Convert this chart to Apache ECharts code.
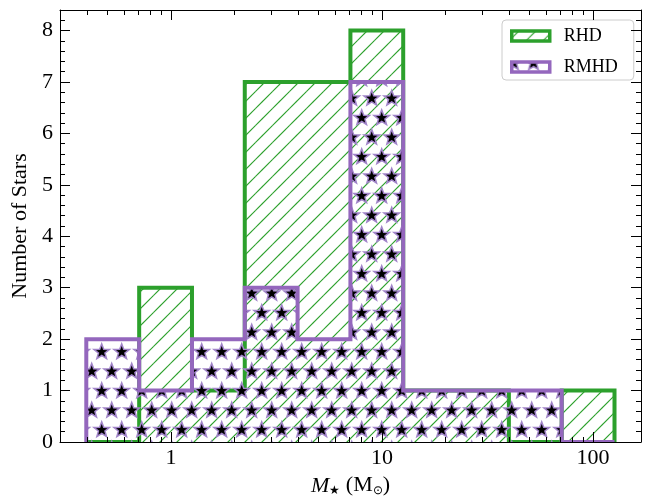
<!DOCTYPE html>
<html><head><meta charset="utf-8">
<script src="https://cdn.jsdelivr.net/npm/echarts@6/dist/echarts.min.js"></script>
<style>html,body{margin:0;padding:0;background:#fff}#c{width:651px;height:498px}</style>
</head><body><div id="c"></div>
<script>
// ---- data ----
const binEdges   = [0.397, 0.707, 1.258, 2.238, 3.983, 7.088, 12.61, 22.45, 39.95, 71.09, 126.5];
const rhdCounts  = [0, 3, 1, 7, 7, 8, 1, 1, 0, 1];
const rmhdCounts = [2, 1, 2, 3, 2, 7, 1, 1, 1, 0];
const seriesNames = ['RHD', 'RMHD'];
const xMajorTicks = [1, 10, 100];
const xMinorTicks = [0.3, 0.4, 0.5, 0.6, 0.7, 0.8, 0.9, 2, 3, 4, 5, 6, 7, 8, 9, 20, 30, 40, 50, 60, 70, 80, 90];
const yMajorTicks = [0, 1, 2, 3, 4, 5, 6, 7, 8];
const yMinorTicks = [0.2, 0.4, 0.6, 0.8, 1.2, 1.4, 1.6, 1.8, 2.2, 2.4, 2.6, 2.8, 3.2, 3.4, 3.6, 3.8,
                     4.2, 4.4, 4.6, 4.8, 5.2, 5.4, 5.6, 5.8, 6.2, 6.4, 6.6, 6.8, 7.2, 7.4, 7.6, 7.8, 8.2, 8.4];
const xRange = [0.298, 168.9];
const yRange = [0, 8.4];

// ---- styles ----
const GREEN = '#2ca02c', PURPLE = '#9467bd';
const FONT = '"Liberation Serif", "Times New Roman", serif';

function hatchPattern() {
  const s = 17;
  const c = document.createElement('canvas'); c.width = s; c.height = s;
  const g = c.getContext('2d');
  g.strokeStyle = GREEN; g.lineWidth = 1.2;
  for (let k = -3; k <= 3; k++) {
    const cc = 7 + k * s;
    g.beginPath(); g.moveTo(-5, cc + 5); g.lineTo(s + 5, cc - s - 5); g.stroke();
  }
  return { image: c, repeat: 'repeat' };
}
function starPattern() {
  const w = 20, h = 39;
  const c = document.createElement('canvas'); c.width = w; c.height = h;
  const g = c.getContext('2d');
  const base = [[1.7, 1.0], [11.7, 20.5]];
  function star(cx, cy) {
    const R = 6.0, r = 2.5;
    g.beginPath();
    for (let i = 0; i < 10; i++) {
      const a = -Math.PI / 2 + i * Math.PI / 5;
      const rad = i % 2 === 0 ? R : r;
      const x = cx + rad * Math.cos(a), y = cy + rad * Math.sin(a);
      if (i === 0) g.moveTo(x, y); else g.lineTo(x, y);
    }
    g.closePath();
    g.lineJoin = 'miter';
    g.strokeStyle = '#a184c9'; g.lineWidth = 3; g.stroke();
    g.fillStyle = '#000'; g.fill();
  }
  for (const [bx, by] of base)
    for (let dx = -1; dx <= 1; dx++)
      for (let dy = -1; dy <= 1; dy++) star(bx + dx * w, by + dy * h);
  return { image: c, repeat: 'repeat' };
}
const hatchFill = hatchPattern();
const starFill = starPattern();

function histRender(counts, fill, color) {
  return function (params, api) {
    const n = counts.length;
    const area = [api.coord([binEdges[0], 0])];
    const line = [api.coord([binEdges[0], 0])];
    for (let i = 0; i < n; i++) {
      const p1 = api.coord([binEdges[i], counts[i]]);
      const p2 = api.coord([binEdges[i + 1], counts[i]]);
      area.push(p1, p2); line.push(p1, p2);
    }
    area.push(api.coord([binEdges[n], 0]));
    line.push(api.coord([binEdges[n], 0]));
    return {
      type: 'group',
      children: [
        { type: 'polygon', shape: { points: area }, style: { fill: fill, stroke: null } },
        { type: 'polyline', shape: { points: line }, style: { fill: null, stroke: color, lineWidth: 4, lineJoin: 'miter' } }
      ]
    };
  };
}

const chart = echarts.init(document.getElementById('c'), null, { renderer: 'canvas' });

function xAx(pos, major) {
  return {
    type: 'log', logBase: 10, min: xRange[0], max: xRange[1], position: pos, z: 10,
    axisLine: { show: major, onZero: false, lineStyle: { color: '#000', width: 1 } },
    axisTick: { show: true, inside: true, length: major ? 10 : 5, customValues: major ? xMajorTicks : xMinorTicks, lineStyle: { color: '#000', width: 1 } },
    axisLabel: (major && pos === 'bottom') ? {
      show: true, customValues: xMajorTicks, margin: 5, color: '#000', fontSize: 22, fontFamily: FONT,
      formatter: v => String(Math.round(v))
    } : { show: false },
    splitLine: { show: false }, minorTick: { show: false }
  };
}
function yAx(pos, major) {
  return {
    type: 'value', min: yRange[0], max: yRange[1], position: pos, z: 10,
    axisLine: { show: major, onZero: false, lineStyle: { color: '#000', width: 1 } },
    axisTick: { show: true, inside: true, length: major ? 10 : 5, customValues: major ? yMajorTicks : yMinorTicks, lineStyle: { color: '#000', width: 1 } },
    axisLabel: (major && pos === 'left') ? {
      show: true, customValues: yMajorTicks, margin: 7, color: '#000', fontSize: 22, fontFamily: FONT,
      formatter: v => String(Math.round(v))
    } : { show: false },
    splitLine: { show: false }
  };
}

const xAxes = [xAx('bottom', true), xAx('bottom', false), xAx('top', true), xAx('top', false)];
xAxes[0].name = '{i|M}{s|★} (M{s|⊙})';
xAxes[0].nameLocation = 'middle';
xAxes[0].nameGap = 30;
xAxes[0].nameTextStyle = {
  color: '#000', fontFamily: FONT, fontSize: 22,
  rich: {
    i: { fontStyle: 'italic', fontSize: 22, fontFamily: FONT, lineHeight: 24, verticalAlign: 'bottom' },
    s: { fontSize: 12, fontFamily: FONT, lineHeight: 12, verticalAlign: 'bottom' }
  }
};
const yAxes = [yAx('left', true), yAx('left', false), yAx('right', true), yAx('right', false)];
yAxes[0].name = 'Number of Stars';
yAxes[0].nameLocation = 'middle';
yAxes[0].nameGap = 24;
yAxes[0].nameTextStyle = { color: '#000', fontFamily: FONT, fontSize: 22 };

chart.setOption({
  animation: false,
  backgroundColor: '#fff',
  grid: { left: 60, right: 10, top: 10, bottom: 56, containLabel: false, outerBoundsMode: 'none' },
  xAxis: xAxes,
  yAxis: yAxes,
  legend: {
    orient: 'vertical', left: 502, top: 20,
    padding: [6, 16, 3, 8],
    itemWidth: 38, itemHeight: 10, itemGap: 11,
    backgroundColor: 'rgba(255,255,255,0.8)', borderColor: '#cccccc', borderWidth: 1, borderRadius: 4,
    textStyle: { fontFamily: FONT, fontSize: 18, lineHeight: 20, color: '#000', padding: [0, 0, 0, 9] },
    data: [
      { name: seriesNames[0], icon: 'rect', itemStyle: { color: hatchFill, borderColor: GREEN, borderWidth: 3.5 } },
      { name: seriesNames[1], icon: 'rect', itemStyle: { color: starFill, borderColor: PURPLE, borderWidth: 3.5 } }
    ]
  },
  series: [
    { name: seriesNames[0], type: 'custom', coordinateSystem: 'cartesian2d', xAxisIndex: 0, yAxisIndex: 0,
      clip: true, z: 2, data: [[1, 1]], renderItem: histRender(rhdCounts, hatchFill, GREEN),
      itemStyle: { color: GREEN } },
    { name: seriesNames[1], type: 'custom', coordinateSystem: 'cartesian2d', xAxisIndex: 0, yAxisIndex: 0,
      clip: true, z: 3, data: [[1, 1]], renderItem: histRender(rmhdCounts, starFill, PURPLE),
      itemStyle: { color: PURPLE } }
  ]
});
</script></body></html>
